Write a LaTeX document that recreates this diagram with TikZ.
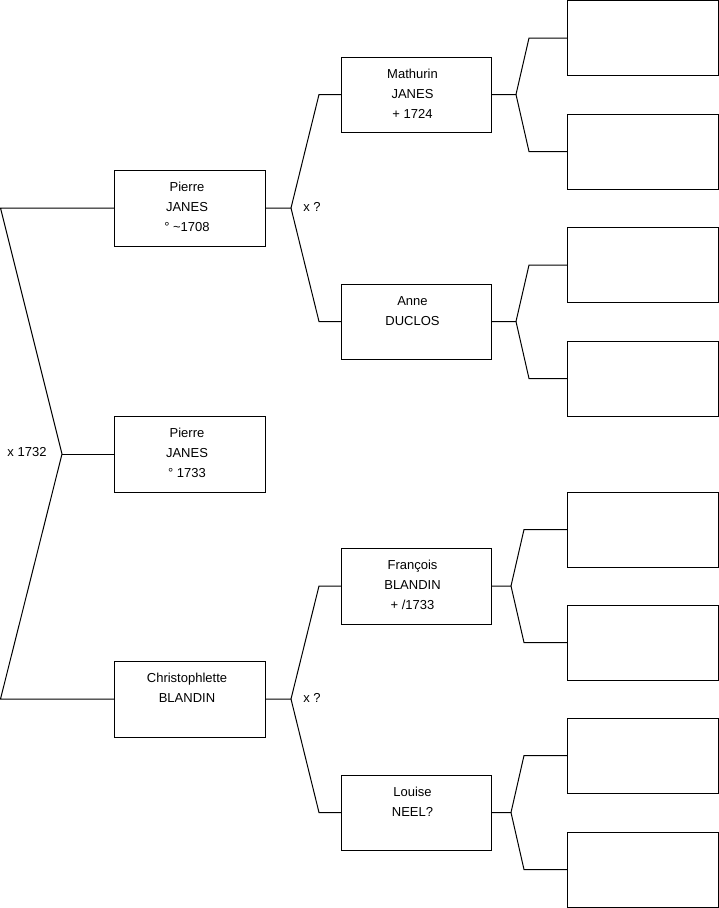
\documentclass[tikz,border=0pt]{standalone}
\usepackage{fontspec}
\setmainfont{Liberation Sans}
\begin{document}
\begin{tikzpicture}[x=1pt,y=-1pt,
  pbox/.style={draw=black,line width=1pt,minimum width=151pt,minimum height=76pt,inner sep=0pt,outer sep=0pt},
  ptext/.style={anchor=north,align=center,inner sep=0pt,yshift=-12.2pt,xshift=-2.5pt,font=\fontsize{13}{20}\selectfont},
  ptextb/.style={ptext,xshift=-1pt},
  mlabel/.style={anchor=base,inner sep=0pt,font=\fontsize{13}{20}\selectfont},
  conn/.style={draw=black,line width=1pt}]
\useasboundingbox (0,0) rectangle (719,908);
% generation 1
\node[pbox] (p1) at (189.5,208) {};
\node[ptext] (p1t) at (p1.north) {Pierre\\JANES\\° \textasciitilde1708};
\node[pbox] (p0) at (189.5,454) {};
\node[ptext] (p0t) at (p0.north) {Pierre\\JANES\\° 1733};
\node[pbox] (c1) at (189.5,699) {};
\node[ptext] (c1t) at (c1.north) {Christophlette\\BLANDIN};
% generation 2
\node[pbox,minimum width=150pt,minimum height=75pt] (m1) at (416,94.5) {};
\node[ptextb] (m1t) at (m1.north) {Mathurin\\JANES\\+ 1724};
\node[pbox,minimum width=150pt,minimum height=75pt] (a1) at (416,321.5) {};
\node[ptextb] (a1t) at (a1.north) {Anne\\DUCLOS};
\node[pbox,minimum width=150pt] (f1) at (416,586) {};
\node[ptextb] (f1t) at (f1.north) {François\\BLANDIN\\+ /1733};
\node[pbox,minimum width=150pt,minimum height=75pt] (l1) at (416,812.5) {};
\node[ptextb] (l1t) at (l1.north) {Louise\\NEEL?};
% generation 3
\node[pbox,minimum height=75pt] (g1) at (642.5,38) {};
\node[pbox,minimum height=75pt] (g2) at (642.5,151.5) {};
\node[pbox,minimum height=75pt] (g3) at (642.5,265) {};
\node[pbox,minimum height=75pt] (g4) at (642.5,378.5) {};
\node[pbox,minimum height=75pt] (g5) at (642.5,529.5) {};
\node[pbox,minimum height=75pt] (g6) at (642.5,642.5) {};
\node[pbox,minimum height=75pt] (g7) at (642.5,755.5) {};
\node[pbox,minimum height=75pt] (g8) at (642.5,869.5) {};
% coordinates
\coordinate (r1) at (0.5,208);
\coordinate (rf) at (62,454);
\coordinate (r3) at (0.5,699);
\coordinate (fa) at (291,208);
\coordinate (fa1) at (319,94.5);
\coordinate (fa2) at (319,321.5);
\coordinate (fb) at (291,699);
\coordinate (fb1) at (319,586);
\coordinate (fb2) at (319,812.5);
\coordinate (fm) at (516,94.5);
\coordinate (fm1) at (529,38);
\coordinate (fm2) at (529,151.5);
\coordinate (fn) at (516,321.5);
\coordinate (fn1) at (529,265);
\coordinate (fn2) at (529,378.5);
\coordinate (ff) at (511,586);
\coordinate (ff1) at (524,529.5);
\coordinate (ff2) at (524,642.5);
\coordinate (fl) at (511,812.5);
\coordinate (fl1) at (524,755.5);
\coordinate (fl2) at (524,869.5);
% connectors
\draw[conn] (p1.west) -- (r1) -- (rf) -- (r3) -- (c1.west);
\draw[conn] (rf) -- (p0.west);
\draw[conn] (p1.east) -- (fa) -- (fa1) -- (m1.west);
\draw[conn] (fa) -- (fa2) -- (a1.west);
\draw[conn] (c1.east) -- (fb) -- (fb1) -- (f1.west);
\draw[conn] (fb) -- (fb2) -- (l1.west);
\draw[conn] (m1.east) -- (fm) -- (fm1) -- (g1.west);
\draw[conn] (fm) -- (fm2) -- (g2.west);
\draw[conn] (a1.east) -- (fn) -- (fn1) -- (g3.west);
\draw[conn] (fn) -- (fn2) -- (g4.west);
\draw[conn] (f1.east) -- (ff) -- (ff1) -- (g5.west);
\draw[conn] (ff) -- (ff2) -- (g6.west);
\draw[conn] (l1.east) -- (fl) -- (fl1) -- (g7.west);
\draw[conn] (fl) -- (fl2) -- (g8.west);
% labels
\node[mlabel] (lx0) at (27,456) {x 1732};
\node[mlabel] (lx1) at (312,211.5) {x ?};
\node[mlabel] (lx2) at (312,702.5) {x ?};
\end{tikzpicture}
\end{document}
